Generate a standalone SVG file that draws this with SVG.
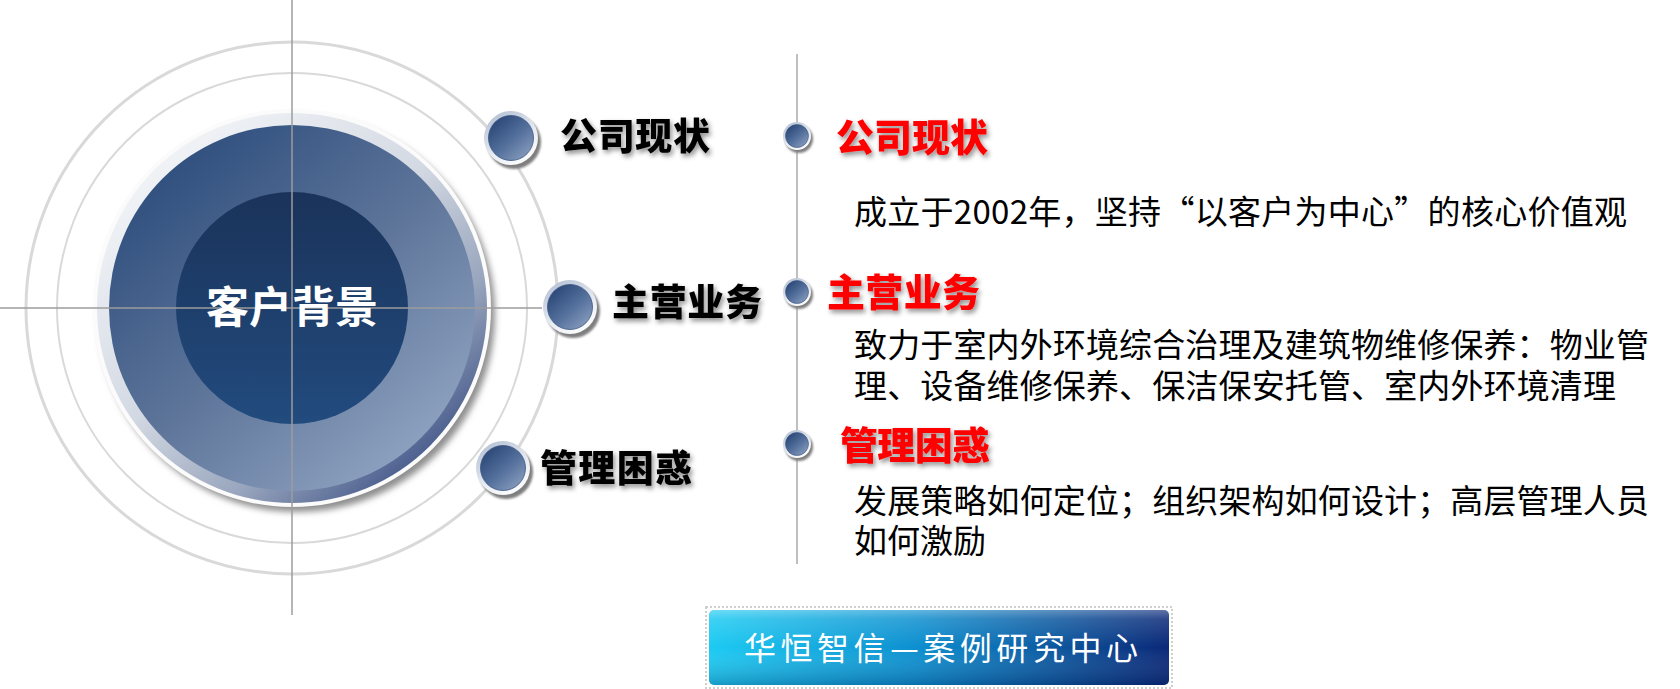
<svg xmlns="http://www.w3.org/2000/svg" width="1680" height="689" viewBox="0 0 1680 689">
<style>
.cjk{font-family:"Noto Sans CJK SC","Noto Sans",sans-serif}
.lbl{font-size:37px;font-weight:900;fill:#000;filter:url(#tshadow)}
.ttl{font-size:38px;font-weight:900;fill:#ff0000;filter:url(#tshadow)}
.body{font-size:33px;fill:#000}
.ring{fill:none;stroke:#d9d9d9}
.cross{stroke:#9c9c9c;stroke-width:1.5;fill:none}
</style>
<defs>
<filter id="tshadow" x="-10%" y="-30%" width="130%" height="170%">
<feDropShadow dx="2" dy="3" stdDeviation="2.4" flood-color="#000" flood-opacity="0.45"/>
</filter>
<filter id="blur3" x="-20%" y="-20%" width="140%" height="140%"><feGaussianBlur stdDeviation="3"/></filter>
<filter id="blur1" x="-30%" y="-30%" width="160%" height="160%"><feGaussianBlur stdDeviation="1.2"/></filter>
<linearGradient id="bevelG" x1="0.15" y1="0.1" x2="0.85" y2="0.9">
<stop offset="0" stop-color="#f2f4f7"/><stop offset="0.45" stop-color="#d3d9e3"/><stop offset="0.75" stop-color="#98a5bd"/><stop offset="1" stop-color="#44588a"/>
</linearGradient>
<linearGradient id="discG" x1="0.15" y1="0.1" x2="0.85" y2="0.9">
<stop offset="0" stop-color="#2f4f7e"/><stop offset="0.5" stop-color="#5d7499"/><stop offset="1" stop-color="#8ea2c0"/>
</linearGradient>
<linearGradient id="innerG" x1="0" y1="0" x2="0" y2="1">
<stop offset="0" stop-color="#1a335a"/><stop offset="1" stop-color="#224b7e"/>
</linearGradient>
<linearGradient id="rimG" x1="0.2" y1="0" x2="0.8" y2="1">
<stop offset="0" stop-color="#b4c0d4"/><stop offset="0.6" stop-color="#e9edf3"/><stop offset="1" stop-color="#ffffff"/>
</linearGradient>
<linearGradient id="dotG" x1="0.15" y1="0.1" x2="0.85" y2="0.9">
<stop offset="0" stop-color="#2b4878"/><stop offset="0.55" stop-color="#54709c"/><stop offset="1" stop-color="#8499bb"/>
</linearGradient>
<linearGradient id="boxG" x1="0" y1="0" x2="1" y2="0">
<stop offset="0" stop-color="#1ccaf2"/><stop offset="0.45" stop-color="#0c8fcf"/><stop offset="1" stop-color="#0a2877"/>
</linearGradient>
<linearGradient id="boxHi" x1="0" y1="0" x2="0" y2="1">
<stop offset="0" stop-color="#ffffff" stop-opacity="0.35"/><stop offset="0.12" stop-color="#ffffff" stop-opacity="0.15"/><stop offset="0.5" stop-color="#ffffff" stop-opacity="0"/><stop offset="1" stop-color="#001040" stop-opacity="0.25"/>
</linearGradient>
<g id="bigDot">
<circle cx="3" cy="4" r="27" fill="#7f7f7f" filter="url(#blur1)"/>
<circle cx="0" cy="0" r="27" fill="url(#rimG)"/>
<circle cx="0" cy="0" r="22.5" fill="url(#dotG)" stroke="#3a5482" stroke-width="0.8"/>
</g>
<g id="smallDot">
<circle cx="2" cy="3" r="14" fill="#7f7f7f" filter="url(#blur1)"/>
<circle cx="0" cy="0" r="14" fill="url(#rimG)"/>
<circle cx="0" cy="0" r="11.5" fill="url(#dotG)" stroke="#3a5482" stroke-width="0.6"/>
</g>
</defs>
<rect width="1680" height="689" fill="#ffffff"/>

<g id="rings">
<circle class="ring" cx="292" cy="308" r="266" stroke-width="3"/>
<circle class="ring" cx="292" cy="308" r="235" stroke-width="2"/>
</g>

<g id="core">
<circle cx="297" cy="314" r="198" fill="#8f8f8f" filter="url(#blur3)"/>
<circle cx="292" cy="308" r="199" fill="#fbfbfb"/>
<circle cx="292" cy="308" r="195" fill="url(#bevelG)"/>
<circle cx="292" cy="308" r="183" fill="url(#discG)"/>
<circle cx="292" cy="308" r="116" fill="url(#innerG)"/>
</g>

<g id="connectors">
<line class="cross" x1="292" y1="0" x2="292" y2="615"/>
<line class="cross" x1="0" y1="308" x2="542" y2="308"/>
<line x1="797" y1="54" x2="797" y2="564" stroke="#bfbfbf" stroke-width="2"/>
</g>

<g id="center-label">
<text class="cjk" x="292" y="323" text-anchor="middle" font-size="43" font-weight="700" fill="#ffffff">客户背景</text>
</g>

<g id="node-gsxz">
<use href="#bigDot" x="511" y="138"/>
<text class="cjk lbl" x="560" y="150" textLength="150" lengthAdjust="spacing">公司现状</text>
</g>
<g id="node-zyyw">
<use href="#bigDot" x="570" y="307"/>
<text class="cjk lbl" x="612" y="316" textLength="150" lengthAdjust="spacing">主营业务</text>
</g>
<g id="node-glhk">
<use href="#bigDot" x="503" y="468"/>
<text class="cjk lbl" x="540" y="482" textLength="152" lengthAdjust="spacing">管理困惑</text>
</g>

<g id="item-gsxz">
<use href="#smallDot" x="797" y="136"/>
<text class="cjk ttl" x="836" y="151" textLength="152" lengthAdjust="spacing">公司现状</text>
<text class="cjk body" x="854" y="224" textLength="773" lengthAdjust="spacing">成立于2002年，坚持“以客户为中心”的核心价值观</text>
</g>
<g id="item-zyyw">
<use href="#smallDot" x="797" y="292"/>
<text class="cjk ttl" x="827" y="306" textLength="153" lengthAdjust="spacing">主营业务</text>
<text class="cjk body" x="854" y="357" textLength="795" lengthAdjust="spacing">致力于室内外环境综合治理及建筑物维修保养：物业管</text>
<text class="cjk body" x="854" y="398" textLength="762" lengthAdjust="spacing">理、设备维修保养、保洁保安托管、室内外环境清理</text>
</g>
<g id="item-glhk">
<use href="#smallDot" x="797" y="444"/>
<text class="cjk ttl" x="840" y="459" textLength="150" lengthAdjust="spacing">管理困惑</text>
<text class="cjk body" x="854" y="513" textLength="795" lengthAdjust="spacing">发展策略如何定位；组织架构如何设计；高层管理人员</text>
<text class="cjk body" x="854" y="553">如何激励</text>
</g>

<g id="footer">
<rect x="706" y="607" width="466" height="81" fill="none" stroke="#cfcfcf" stroke-width="2" stroke-dasharray="2 2"/>
<rect x="709" y="610" width="460" height="75" rx="5" fill="url(#boxG)"/>
<rect x="709" y="610" width="460" height="75" rx="5" fill="url(#boxHi)"/>
<text class="cjk" x="744" y="660" font-size="32" fill="#ffffff" textLength="394" lengthAdjust="spacing">华恒智信—案例研究中心</text>
</g>
</svg>
